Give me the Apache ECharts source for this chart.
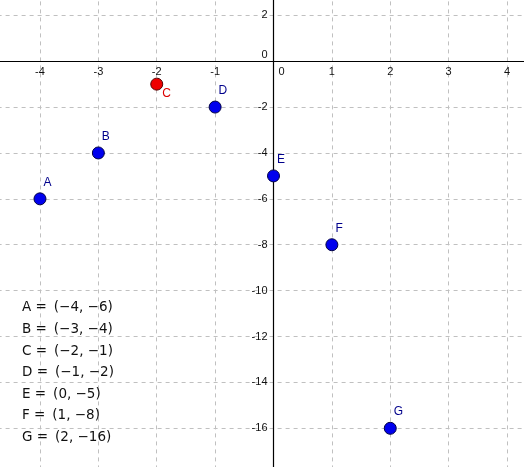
<!DOCTYPE html>
<html>
<head>
<meta charset="utf-8">
<script src="https://cdn.jsdelivr.net/npm/echarts@6/dist/echarts.min.js"></script>
<style>html,body{margin:0;padding:0;background:#fff}#c{width:524px;height:467px}</style>
</head>
<body>
<div id="c"></div>
<script>
const pointNames = ['A', 'B', 'C', 'D', 'E', 'F', 'G'];
const pointX = [-4, -3, -2, -1, 0, 1, 2];
const pointY = [-6, -4, -1, -2, -5, -8, -16];
const highlighted = ['C'];
const xRange = [-5, 5];
const yRange = [-18, 4];

const W = 524, H = 467;
const gridBox = { left: -18.4, right: -41.4, top: -30.6, bottom: -7.2 };
const gridW = W - gridBox.left - gridBox.right;
const gridH = H - gridBox.top - gridBox.bottom;
// shift axes so they cross at the origin (labels follow the axis lines)
const xAxisOffset = -((0 - yRange[0]) / (yRange[1] - yRange[0])) * gridH;
const yAxisOffset = -((0 - xRange[0]) / (xRange[1] - xRange[0])) * gridW;

const chart = echarts.init(document.getElementById('c'));
const fmt = v => (v < 0 ? '\u2212' + Math.abs(v) : String(v));
const listText = pointNames.map((n, i) => n + ' = \u2009(' + fmt(pointX[i]) + ', ' + fmt(pointY[i]) + ')').join('\n');

const data = pointNames.map((n, i) => {
  const hot = highlighted.includes(n);
  return {
    name: n,
    value: [pointX[i], pointY[i]],
    itemStyle: hot ? { color: '#ee0000', borderColor: '#550000' } : { color: '#0000ee', borderColor: '#000044' },
    label: hot ? { position: [12, 10], color: '#dd0000' } : { position: [10, -16], color: '#00008b' }
  };
});

chart.setOption({
  animation: false,
  grid: Object.assign({ containLabel: false, outerBoundsMode: 'none' }, gridBox),
  xAxis: {
    type: 'value', min: xRange[0], max: xRange[1], interval: 1,
    position: 'bottom', offset: xAxisOffset,
    axisLine: { onZero: false, lineStyle: { color: '#000', width: 1.2 } },
    axisTick: { show: false },
    splitLine: { show: true, lineStyle: { color: '#c0c0c0', type: [4, 4], width: 1 } },
    axisLabel: {
      margin: 5, fontSize: 11, color: '#111', fontFamily: 'Liberation Sans',
      formatter: v => v === 0 ? '{z|0}' : String(v),
      rich: { z: { padding: [0, 0, 0, 16], fontSize: 11, color: '#111', fontFamily: 'Liberation Sans' } }
    }
  },
  yAxis: {
    type: 'value', min: yRange[0], max: yRange[1], interval: 2,
    position: 'left', offset: yAxisOffset,
    axisLine: { onZero: false, lineStyle: { color: '#000', width: 1.2 } },
    axisTick: { show: false },
    splitLine: { show: true, lineStyle: { color: '#c0c0c0', type: [4, 4], width: 1 } },
    axisLabel: {
      margin: 6, fontSize: 11, color: '#111', fontFamily: 'Liberation Sans',
      formatter: v => v === 0 ? '{z|0}' : String(v),
      rich: { z: { padding: [0, 0, 12, 0], fontSize: 11, color: '#111', fontFamily: 'Liberation Sans' } }
    }
  },
  series: [{
    type: 'scatter',
    symbol: 'circle',
    symbolSize: 12,
    z: 5,
    itemStyle: { borderWidth: 1, opacity: 1 },
    label: {
      show: true, formatter: '{b}', fontSize: 12, fontFamily: 'Liberation Sans',
      align: 'left', verticalAlign: 'top'
    },
    data: data
  }],
  graphic: [{
    type: 'text', left: 22, top: 297, z: 10,
    style: { text: listText, font: '13.5px "DejaVu Sans"', fill: '#111', lineHeight: 21.6 }
  }]
});
</script>
</body>
</html>
